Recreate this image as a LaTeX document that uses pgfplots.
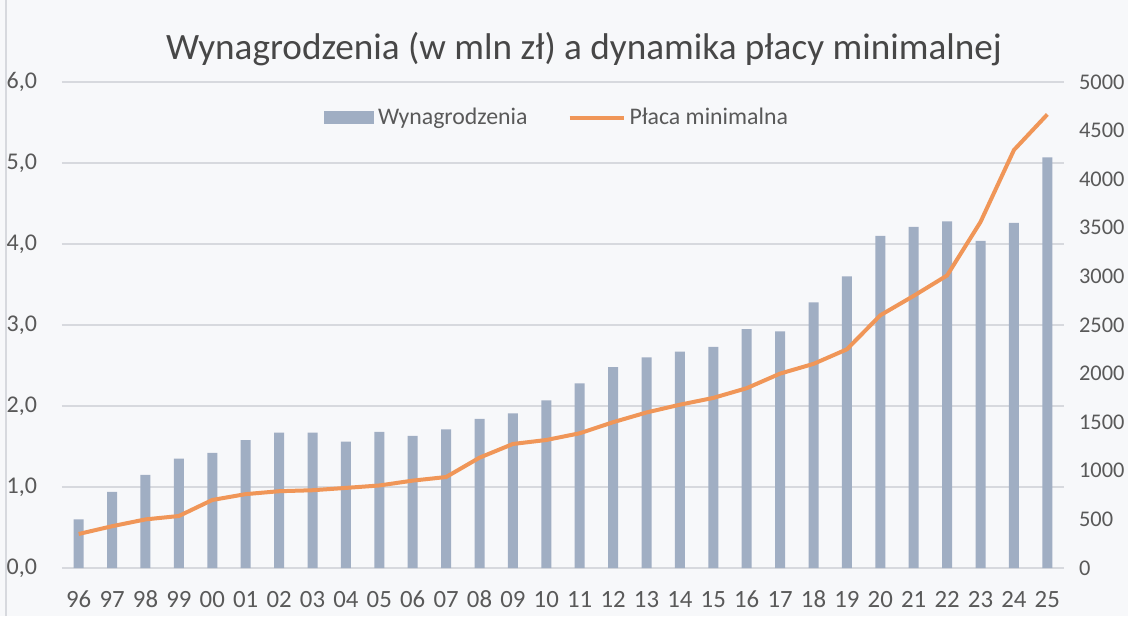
\documentclass[border=0pt]{standalone}
\usepackage{pgfplots}
\pgfplotsset{compat=1.18}
\usepackage{fontspec}
\setmainfont{Carlito}

\definecolor{barcol}{RGB}{160,174,195}
\definecolor{linecol}{RGB}{240,150,88}
\definecolor{gridcol}{RGB}{215,217,222}
\definecolor{txtcol}{RGB}{89,89,89}
\definecolor{bgcol}{RGB}{247,248,250}

\begin{document}
\begin{tikzpicture}
% background of the scanned chart (1px = 0.5pt)
\fill[bgcol] (-31pt,-24pt) rectangle (533pt,284pt);
\draw[gridcol, line width=0.6pt] (-28pt,-24pt) -- (-28pt,284pt);

\begin{axis}[
    scale only axis,
    width=501pt, height=243pt,
    xmin=-0.5, xmax=29.5,
    ymin=0, ymax=6,
    xtick={0,...,29},
    xticklabels={96,97,98,99,00,01,02,03,04,05,06,07,08,09,10,11,12,13,14,15,16,17,18,19,20,21,22,23,24,25},
    ytick={0,1,...,6},
    ymajorgrids,
    grid style={gridcol, line width=0.6pt},
    axis line style={draw=none},
    major tick length=0pt,
    tick label style={text=txtcol},
    xticklabel style={font=\fontsize{12.4}{13}\selectfont, yshift=-8pt,
        text height=8pt, text depth=1pt},
    yticklabel style={font=\fontsize{12}{13}\selectfont, xshift=-9pt,
        /pgf/number format/.cd, fixed, fixed zerofill, precision=1, use comma},
    /pgf/number format/assume math mode=true,
    ybar, bar width=5pt,
    title={Wynagrodzenia (w mln zł) a dynamika płacy minimalnej},
    title style={at={(0.521,1.043)}, anchor=center, text=txtcol!80!black,
        font=\fontsize{18.6}{22}\selectfont},
    legend style={at={(0.495,0.926)}, anchor=center, draw=none, fill=none,
        legend columns=2, font=\fontsize{11.9}{13}\selectfont, text=txtcol,
        /tikz/every even column/.append style={column sep=18pt}},
    legend cell align=left,
]
\addplot[fill=barcol, draw=none,
    legend image code/.code={\fill[barcol] (0pt,-3.25pt) rectangle (25pt,3.25pt);}]
coordinates {
(0,0.60) (1,0.94) (2,1.15) (3,1.35) (4,1.42) (5,1.58) (6,1.67) (7,1.67)
(8,1.56) (9,1.68) (10,1.63) (11,1.71) (12,1.84) (13,1.91) (14,2.07)
(15,2.28) (16,2.48) (17,2.60) (18,2.67) (19,2.73) (20,2.95) (21,2.92)
(22,3.28) (23,3.60) (24,4.10) (25,4.21) (26,4.28) (27,4.04) (28,4.26) (29,5.07)
};
\addlegendentry{Wynagrodzenia}
\addlegendimage{linecol, line width=2pt,
    legend image code/.code={\draw[linecol, line width=2pt] (0pt,0pt) -- (27pt,0pt);}}
\addlegendentry{Płaca minimalna}
\end{axis}

\begin{axis}[
    scale only axis,
    width=501pt, height=243pt,
    xmin=-0.5, xmax=29.5,
    ymin=0, ymax=5000,
    axis x line=none,
    axis y line*=right,
    axis line style={draw=none},
    ytick={0,500,...,5000},
    major tick length=0pt,
    tick label style={text=txtcol},
    yticklabel style={font=\fontsize{11.2}{12}\selectfont, anchor=west, xshift=4pt,
        /pgf/number format/.cd, 1000 sep={}},
    /pgf/number format/assume math mode=true,
]
\addplot[linecol, line width=2pt, line join=round, mark=none] coordinates {
(0,350) (1,430) (2,500) (3,535) (4,700) (5,760) (6,790) (7,800) (8,824)
(9,849) (10,899) (11,936) (12,1135) (13,1276) (14,1317) (15,1386) (16,1500)
(17,1600) (18,1680) (19,1750) (20,1850) (21,2000) (22,2100) (23,2250)
(24,2600) (25,2800) (26,3010) (27,3560) (28,4300) (29,4666)
};
\end{axis}

\pgfresetboundingbox
\useasboundingbox (-31pt,-24pt) rectangle (533pt,284pt);
\end{tikzpicture}
\end{document}
